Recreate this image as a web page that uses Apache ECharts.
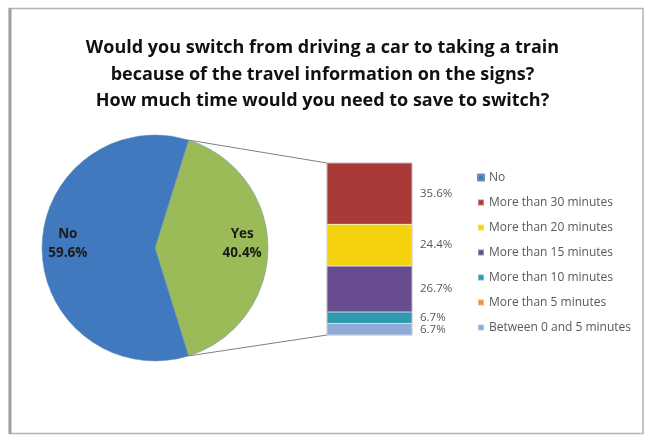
<!DOCTYPE html>
<html>
<head>
<meta charset="utf-8">
<title>Switching from car to train</title>
<script src="https://cdn.jsdelivr.net/npm/echarts@6/dist/echarts.min.js"></script>
<style>
  html, body { margin: 0; padding: 0; background: #ffffff; }
  #chart { width: 645px; height: 436px; }
</style>
</head>
<body>
<div id="chart"></div>
<script>
// Survey answers: would the respondent switch at all?
const answerNames = ['Yes', 'No'];
const answerValues = [40.4, 59.6];

// Breakdown of the "Yes" answers by the time saving needed (bottom to top of the bar)
const savingNames = [
  'Between 0 and 5 minutes',
  'More than 5 minutes',
  'More than 10 minutes',
  'More than 15 minutes',
  'More than 20 minutes',
  'More than 30 minutes'
];
const savingValues = [6.7, 0, 6.7, 26.7, 24.4, 35.6];

// Legend order, top to bottom
const legendOrder = [
  'No',
  'More than 30 minutes',
  'More than 20 minutes',
  'More than 15 minutes',
  'More than 10 minutes',
  'More than 5 minutes',
  'Between 0 and 5 minutes'
];

const titleText = 'Would you switch from driving a car to taking a train\nbecause of the travel information on the signs?\nHow much time would you need to save to switch?';

// Colours
const answerColors = { Yes: '#9bbb59', No: '#4079bd' };
const savingColors = ['#8eaad9', '#f0913f', '#2f9aad', '#684c90', '#f5d20e', '#aa3a37'];

// Layout
const pieCenter = [155, 248];
const pieRadius = 113;
const barBox = { left: 327, top: 163, width: 85, height: 172 };
const FONT = '"Open Sans", "Liberation Sans", sans-serif';

const chart = echarts.init(document.getElementById('chart'), null, { renderer: 'canvas' });

// Place the "Yes" slice symmetric about the horizontal axis, on the right
const yesTotal = answerValues[0];
const answerTotal = answerValues.reduce((a, b) => a + b, 0);
const yesHalfAngle = (yesTotal / answerTotal) * 360 / 2;

const pieData = answerNames.map((n, i) => ({
  name: n,
  value: answerValues[i],
  itemStyle: { color: answerColors[n] }
}));

const savingTotal = savingValues.reduce((a, b) => a + b, 0);

const barSeries = savingNames.map((n, i) => ({
  name: n,
  type: 'bar',
  stack: 'yes',
  barWidth: '100%',
  xAxisIndex: 0,
  yAxisIndex: 0,
  data: [savingValues[i]],
  itemStyle: { color: savingColors[i], borderColor: 'rgba(255,255,255,0.35)', borderWidth: 0.5 },
  label: {
    show: savingValues[i] > 0,
    position: 'right',
    distance: 8,
    color: '#595959',
    fontFamily: FONT,
    fontSize: 11.5,
    formatter: p => p.value.toFixed(1) + '%'
  },
  silent: true
}));

// Connector lines from the edges of the "Yes" slice to the bar corners
const rad = yesHalfAngle * Math.PI / 180;
const sliceTop = [pieCenter[0] + pieRadius * Math.cos(rad), pieCenter[1] - pieRadius * Math.sin(rad)];
const sliceBottom = [pieCenter[0] + pieRadius * Math.cos(rad), pieCenter[1] + pieRadius * Math.sin(rad)];

const option = {
  animation: false,
  backgroundColor: '#ffffff',
  title: {
    text: titleText,
    left: 'center',
    top: 30,
    textStyle: {
      fontFamily: FONT,
      fontWeight: 'bold',
      fontSize: 18,
      lineHeight: 26.5,
      color: '#111111'
    }
  },
  legend: {
    data: legendOrder,
    orient: 'vertical',
    left: 477,
    top: 171,
    padding: 0,
    itemWidth: 6,
    itemHeight: 6,
    itemGap: 12,
    icon: 'rect',
    selectedMode: false,
    textStyle: { fontFamily: FONT, fontSize: 12, color: '#595959', lineHeight: 13 }
  },
  grid: {
    left: barBox.left,
    top: barBox.top,
    width: barBox.width,
    height: barBox.height,
    containLabel: false
  },
  xAxis: { type: 'category', data: ['Yes'], show: false },
  yAxis: { type: 'value', min: 0, max: savingTotal, show: false },
  series: [
    {
      name: 'answers',
      type: 'pie',
      center: pieCenter,
      radius: [0, pieRadius],
      startAngle: yesHalfAngle,
      clockwise: true,
      data: pieData,
      label: { show: false },
      labelLine: { show: false },
      itemStyle: { borderColor: '#6d8fb8', borderWidth: 0.5 },
      silent: true
    },
    {
      // transparent ring carrying the slice labels further out than mid-radius
      name: 'answer labels',
      type: 'pie',
      center: pieCenter,
      radius: [pieRadius * 0.49, pieRadius],
      startAngle: yesHalfAngle,
      clockwise: true,
      data: answerNames.map((n, i) => ({ name: n, value: answerValues[i] })),
      itemStyle: { color: 'rgba(0,0,0,0)' },
      label: {
        show: true,
        position: 'inside',
        offset: [0, -4],
        fontFamily: FONT,
        fontWeight: 'bold',
        fontSize: 13.5,
        lineHeight: 19,
        color: '#1a1a1a',
        formatter: p => p.name + '\n' + p.value.toFixed(1) + '%'
      },
      labelLine: { show: false },
      silent: true
    },
    ...barSeries
  ],
  graphic: [
    {
      type: 'rect',
      shape: { x: 9.5, y: 8.5, width: 633.5, height: 425 },
      style: { fill: 'none', stroke: '#b4b4b4', lineWidth: 1.5 },
      silent: true
    },
    {
      type: 'line',
      shape: { x1: 10, y1: 8, x2: 10, y2: 434 },
      style: { stroke: '#a0a0a0', lineWidth: 3 },
      silent: true
    },
    {
      type: 'line',
      shape: { x1: sliceTop[0], y1: sliceTop[1], x2: barBox.left, y2: barBox.top },
      style: { stroke: '#808080', lineWidth: 1 },
      silent: true
    },
    {
      type: 'line',
      shape: { x1: sliceBottom[0], y1: sliceBottom[1], x2: barBox.left, y2: barBox.top + barBox.height },
      style: { stroke: '#808080', lineWidth: 1 },
      silent: true
    },
    {
      type: 'rect',
      shape: { x: barBox.left, y: barBox.top, width: barBox.width, height: barBox.height },
      style: { fill: 'none', stroke: '#a6a6a6', lineWidth: 0.8 },
      silent: true
    }
  ]
};

chart.setOption(option);
</script>
</body>
</html>
